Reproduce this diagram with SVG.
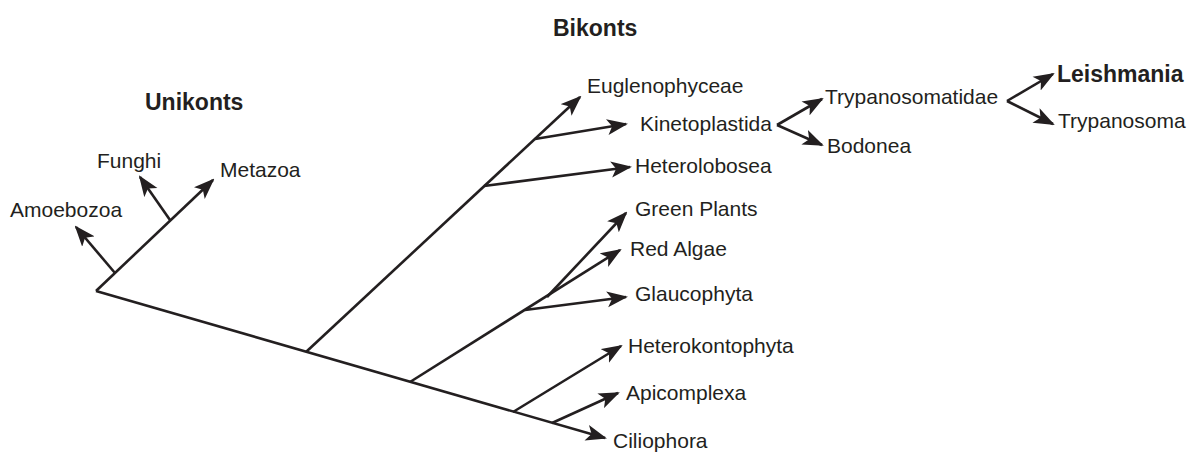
<svg xmlns="http://www.w3.org/2000/svg" width="1201" height="452" viewBox="0 0 1201 452">
<defs>
<style>
.ln{stroke:#231f20;stroke-width:2.6;fill:none;stroke-linecap:butt;stroke-linejoin:miter}
.ar{marker-end:url(#ah)}
text{font-family:"Liberation Sans",Arial,sans-serif;font-size:21px;fill:#231f20}
.b{font-weight:bold;font-size:23px}
</style>
<marker id="ah" markerUnits="userSpaceOnUse" viewBox="0 0 21 17" refX="19" refY="8.5" markerWidth="21" markerHeight="17" orient="auto">
<path d="M0,0.5 L21,8.5 L0,16.5 L5,8.5 Z" fill="#231f20"/>
</marker>
</defs>
<rect width="1201" height="452" fill="#ffffff"/>
<g id="connectors">
<path class="ln ar" d="M96,291 L605,438"/>
<path class="ln ar" d="M96,291 L213,180"/>
<path class="ln ar" d="M115,273 L76,227"/>
<path class="ln ar" d="M170,220 L140,177"/>
<path class="ln ar" d="M306,352 L580,97"/>
<path class="ln ar" d="M535,139 L626,124"/>
<path class="ln ar" d="M484,186 L630,167"/>
<path class="ln ar" d="M410,382 L620,250"/>
<path class="ln ar" d="M547,297 L626,213"/>
<path class="ln ar" d="M525,310 L626,297"/>
<path class="ln ar" d="M513,412 L621,346"/>
<path class="ln ar" d="M552,423 L618,393"/>
<path class="ln ar" d="M777,125 L822,99"/>
<path class="ln ar" d="M777,125 L822,145"/>
<path class="ln ar" d="M1007,101 L1053,74"/>
<path class="ln ar" d="M1007,101 L1053,124"/>
</g>
<g id="title-unikonts"><text class="b" x="145" y="110">Unikonts</text></g>
<g id="title-bikonts"><text class="b" x="553" y="36">Bikonts</text></g>
<g id="node-amoebozoa"><text x="10" y="217">Amoebozoa</text></g>
<g id="node-funghi"><text x="97" y="168">Funghi</text></g>
<g id="node-metazoa"><text x="220" y="177">Metazoa</text></g>
<g id="node-euglenophyceae"><text x="587" y="93">Euglenophyceae</text></g>
<g id="node-kinetoplastida"><text x="640" y="131">Kinetoplastida</text></g>
<g id="node-heterolobosea"><text x="635" y="173">Heterolobosea</text></g>
<g id="node-greenplants"><text x="635" y="216">Green Plants</text></g>
<g id="node-redalgae"><text x="630" y="256">Red Algae</text></g>
<g id="node-glaucophyta"><text x="635" y="301">Glaucophyta</text></g>
<g id="node-heterokontophyta"><text x="628" y="353">Heterokontophyta</text></g>
<g id="node-apicomplexa"><text x="626" y="400">Apicomplexa</text></g>
<g id="node-ciliophora"><text x="613" y="448">Ciliophora</text></g>
<g id="node-trypanosomatidae"><text x="825" y="104">Trypanosomatidae</text></g>
<g id="node-bodonea"><text x="827" y="153">Bodonea</text></g>
<g id="node-leishmania"><text class="b" x="1057" y="82">Leishmania</text></g>
<g id="node-trypanosoma"><text x="1058" y="128">Trypanosoma</text></g>
</svg>
